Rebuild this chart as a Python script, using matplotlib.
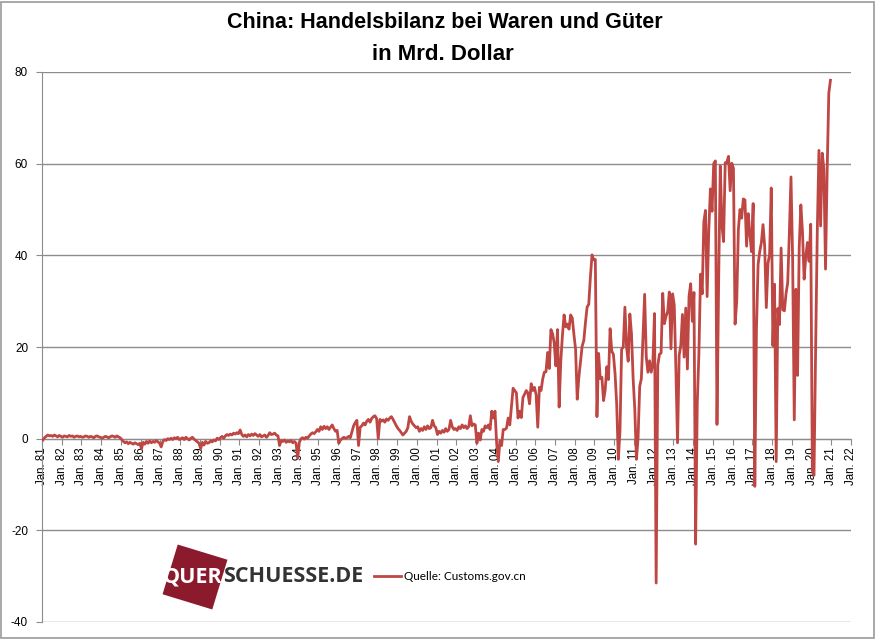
import numpy as np
import matplotlib
matplotlib.use("Agg")
import matplotlib.pyplot as plt
import matplotlib.patches as patches
from matplotlib.transforms import IdentityTransform

plt.rcParams["axes.unicode_minus"] = False

# Monthly trade balance, bn USD
y1981 = [-0.3, 0.2, 0.5, 0.8, 0.6, 0.7, 0.5, 0.8, 0.6, 0.4, 0.7, 0.5]
y1982 = [0.3, 0.6, 0.5, 0.4, 0.7, 0.5, 0.6, 0.3, 0.5, 0.6, 0.4, 0.5]
y1983 = [0.3, 0.4, 0.6, 0.5, 0.3, 0.5, 0.4, 0.2, 0.5, 0.6, 0.4, 0.3]
y1984 = [0.1, 0.3, 0.5, 0.4, 0.2, 0.4, 0.6, 0.5, 0.3, 0.6, 0.4, 0.2]
y1985 = [-0.2, -0.6, -0.9, -0.7, -1.1, -0.8, -1.0, -1.2, -0.9, -1.1, -1.3, -1.0]
y1986 = [-2.2, -0.8, -1.2, -0.6, -1.0, -0.5, -0.9, -0.6, -0.8, -0.4, -0.7, -1.0]
y1987 = [-1.8, -0.6, -0.2, -0.4, 0.0, -0.2, 0.1, -0.2, 0.2, 0.0, 0.3, -0.2]
y1988 = [0.0, 0.2, -0.2, 0.3, 0.0, -0.3, 0.1, 0.3, -0.1, -0.4, -0.7, -1.0]
y1989 = [-2.2, -0.8, -1.4, -0.6, -1.0, -0.9, -0.5, -0.7, -0.3, -0.5, 0.1, -0.2]
y1990 = [0.2, 0.5, 0.1, 0.6, 0.9, 0.7, 1.0, 0.8, 1.2, 1.0, 1.3, 1.1]
y1991 = [1.9, 0.9, 0.5, 0.8, 0.4, 0.9, 0.6, 1.0, 0.7, 1.1, 0.8, 0.5]
y1992 = [0.9, 0.4, 0.6, 0.8, 0.3, 0.7, 1.3, 0.9, 1.0, 1.2, 0.8, 0.6]
y1993 = [-1.5, -0.4, -0.6, -0.3, -0.8, -0.5, -0.7, -0.4, -0.9, -0.6, -1.0, -4.3]
y1994 = [-0.8, 0.0, 0.2, -0.1, 0.3, 0.1, 0.6, 1.0, 1.3, 1.1, 1.5, 2.0]
y1995 = [1.6, 2.6, 2.0, 2.7, 2.2, 2.6, 2.0, 2.5, 3.0, 2.2, 1.6, 1.8]
y1996 = [-1.0, -0.3, 0.0, 0.3, 0.1, 0.2, 0.5, 0.2, 1.5, 2.8, 3.5, 4.0]
y1997 = [-1.5, 2.5, 2.8, 3.4, 3.0, 3.8, 4.2, 3.6, 4.4, 4.8, 5.0, 4.4]
y1998 = [0.0, 4.2, 3.8, 4.1, 3.6, 4.3, 4.0, 4.5, 4.8, 4.2, 3.5, 2.8]
y1999 = [2.2, 1.8, 1.3, 0.8, 1.2, 1.6, 2.4, 4.8, 3.8, 3.2, 2.8, 2.4]
y2000 = [2.6, 1.6, 2.2, 1.8, 2.6, 2.0, 2.8, 2.2, 2.4, 4.0, 2.8, 2.4]
y2001 = [0.9, 1.6, 1.2, 1.8, 1.4, 2.2, 1.6, 2.0, 4.0, 2.6, 2.0, 2.2]
y2002 = [1.8, 2.6, 2.2, 3.0, 2.4, 2.8, 2.2, 2.6, 5.0, 2.8, 3.2, 3.0]
y2003 = [-1.0, 1.2, -0.3, 2.0, 1.6, 2.8, 2.4, 3.0, 2.0, 6.0, 4.5, 6.0]
y2004 = [-1.0, -5.0, -0.5, -1.5, 2.0, 2.0, 2.3, 4.5, 3.0, 7.0, 11.0, 10.5]
y2005 = [10.0, 4.5, 6.0, 4.6, 9.0, 9.7, 10.5, 10.0, 7.6, 12.0, 10.5, 11.2]
y2006 = [9.6, 2.5, 11.2, 10.5, 13.0, 14.5, 14.6, 18.8, 15.3, 23.8, 22.9, 20.9]
y2007 = [15.9, 23.8, 6.9, 16.9, 22.5, 27.0, 24.4, 25.0, 23.9, 27.0, 26.3, 22.7]
y2008 = [19.5, 8.6, 13.4, 16.7, 20.2, 21.4, 25.3, 28.7, 29.3, 35.2, 40.1, 39.0]
y2009 = [39.1, 4.8, 18.6, 13.1, 13.4, 8.3, 10.6, 15.7, 12.9, 24.0, 19.1, 18.4]
y2010 = [14.2, 7.6, -4.5, 1.7, 19.5, 20.0, 28.7, 20.0, 16.9, 27.2, 22.9, 13.1]
y2011 = [6.5, -4.5, 0.1, 11.4, 13.1, 22.3, 31.5, 17.8, 14.5, 17.0, 14.5, 16.5]
y2012 = [27.3, -31.5, 16.0, 18.4, 18.7, 31.7, 25.1, 26.7, 27.7, 32.0, 19.6, 31.6]
y2013 = [29.2, 15.3, -0.9, 18.2, 20.4, 27.1, 17.8, 28.5, 15.2, 31.1, 33.8, 25.6]
y2014 = [31.9, -23.0, 7.7, 18.5, 35.9, 31.6, 47.3, 49.8, 31.0, 45.4, 54.5, 49.6]
y2015 = [60.0, 60.6, 3.1, 34.1, 59.5, 46.5, 43.0, 60.2, 60.3, 61.6, 54.1, 60.1]
y2016 = [59.0, 25.0, 29.9, 45.6, 50.0, 48.1, 52.3, 52.1, 42.0, 49.1, 44.6, 40.8]
y2017 = [51.3, -10.4, 23.9, 38.0, 40.8, 42.8, 46.7, 42.0, 28.6, 38.2, 40.2, 54.7]
y2018 = [20.3, 33.7, -5.0, 28.4, 24.9, 41.6, 28.1, 27.9, 31.7, 34.0, 44.7, 57.1]
y2019 = [39.2, 4.1, 32.6, 13.8, 41.7, 51.0, 45.1, 34.8, 39.7, 42.8, 38.7, 46.8]
y2020 = [-7.0, -8.0, 19.9, 45.3, 62.9, 46.4, 62.3, 58.9, 37.0, 58.4, 75.4, 78.2]

years = list(range(1981, 2021))
balance = np.concatenate([globals()["y%d" % y] for y in years])
tick_years = list(range(1981, 2023))
tick_labels = ["Jan. %02d" % (y % 100) for y in tick_years]

red = "#BE4643"
grey = "#8c8c8c"

fig = plt.figure(figsize=(8.76, 6.39), dpi=100)
ax = fig.add_axes([42 / 876, 1 - 622 / 639, (851 - 42) / 876, (622 - 72) / 639])

# Excel style category axis: points sit in the middle of each month slot
x = np.arange(len(balance)) + 0.5
ax.plot(x, balance, color=red, lw=2.0, solid_joinstyle="round",
        label="Quelle: Customs.gov.cn", zorder=3)

ax.set_xlim(0, 12 * (len(tick_years) - 1))
ax.set_ylim(-40, 80)
ax.set_yticks(range(-40, 81, 20))
ax.set_xticks([12 * i for i in range(len(tick_years))])
ax.set_xticklabels(tick_labels)

ax.yaxis.grid(True, color=grey, lw=1)
ax.set_axisbelow(True)
ax.spines["top"].set_visible(False)
ax.spines["right"].set_visible(False)
ax.spines["left"].set_color(grey)
ax.spines["bottom"].set_color(grey)
ax.spines["bottom"].set_position(("data", 0))
ax.tick_params(axis="x", direction="out", length=4, color=grey, pad=2,
               labelrotation=90, labelsize=8.3)
ax.tick_params(axis="y", direction="out", length=4, color=grey, pad=6,
               labelsize=8.5)
for lab in ax.get_xticklabels() + ax.get_yticklabels():
    lab.set_family("Liberation Sans")

# Title
fig.text(0.508, 1 - 22 / 639, "China: Handelsbilanz bei Waren und Güter",
         ha="center", va="center", fontsize=15.5, fontweight="bold",
         family="Liberation Sans")
fig.text(0.505, 1 - 55 / 639, "in Mrd. Dollar", ha="center", va="center",
         fontsize=16, fontweight="bold", family="Liberation Sans")

# Logo
sq = patches.Rectangle((195 - 26, 62 - 26), 52, 52, angle=-17,
                       rotation_point="center", facecolor="#8B1A2C",
                       edgecolor="none", transform=IdentityTransform())
fig.add_artist(sq)
t1 = fig.text(163 / 876, 1 - 577 / 639, "QUER", color="white",
              fontsize=15.5, fontweight="bold", family="Open Sans",
              va="center", ha="left")
ax.annotate("SCHUESSE.DE", xy=(1, 0.5), xycoords=t1, va="center",
            ha="left", color="#333333", fontsize=15.5, fontweight="bold",
            family="Open Sans", annotation_clip=False)

# Legend
leg = ax.legend(loc="center left", bbox_to_anchor=(368 / 876, 1 - 577 / 639),
                bbox_transform=fig.transFigure, frameon=False, borderpad=0,
                handlelength=2.3, handletextpad=0.25,
                prop={"family": "Lato", "size": 8.5})

# Outer frame
fig.add_artist(patches.Rectangle((0.001, 0.002), 0.997, 0.995,
                                 transform=fig.transFigure, fill=False,
                                 edgecolor="#9a9a9a", lw=1.2))

fig.savefig("out.png", dpi=100)
